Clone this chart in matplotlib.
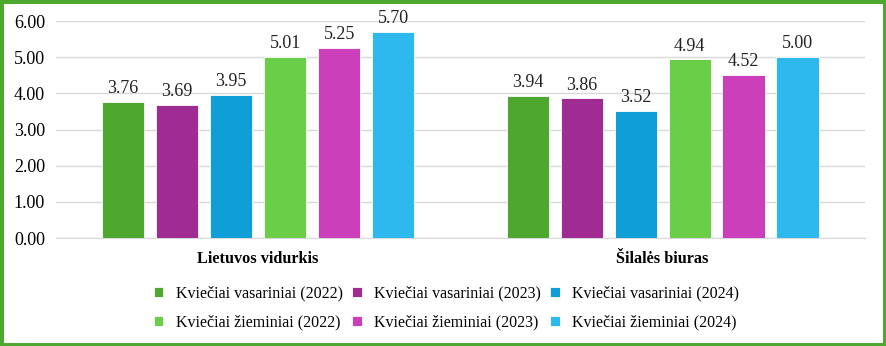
import numpy as np
import matplotlib
matplotlib.use("Agg")
import matplotlib.pyplot as plt

plt.rcParams["font.family"] = ["Liberation Serif", "DejaVu Serif"]

categories = ["Lietuvos vidurkis", "Šilalės biuras"]
series_names = [
    "Kviečiai vasariniai (2022)",
    "Kviečiai vasariniai (2023)",
    "Kviečiai vasariniai (2024)",
    "Kviečiai žieminiai (2022)",
    "Kviečiai žieminiai (2023)",
    "Kviečiai žieminiai (2024)",
]
vas_2022 = [3.76, 3.94]
vas_2023 = [3.69, 3.86]
vas_2024 = [3.95, 3.52]
zie_2022 = [5.01, 4.94]
zie_2023 = [5.25, 4.52]
zie_2024 = [5.70, 5.00]
yticks = [0, 1, 2, 3, 4, 5, 6]

series = [vas_2022, vas_2023, vas_2024, zie_2022, zie_2023, zie_2024]
colors = ["#4EA72E", "#A02B93", "#0F9ED5", "#6BCE48", "#CC3FBB", "#2EB9EE"]

fig = plt.figure(figsize=(8.86, 3.46), dpi=100)
fig.patch.set_edgecolor("#4EA72E")
fig.patch.set_linewidth(5)
ax = fig.add_axes([0.0632, 0.3121, 0.9128, 0.6272])

fs = 13
x = np.arange(len(categories))
step = 0.1335
width = 0.104
bars = []
for i, (vals, name, col) in enumerate(zip(series, series_names, colors)):
    offs = (i - 2.5) * step
    b = ax.bar(x + offs, vals, width, color=col, label=name,
               edgecolor="white", linewidth=0.6, zorder=3)
    bars.append(b)
    for xi, v in zip(x + offs, vals):
        ax.text(xi, v + 0.13, f"{v:.2f}", ha="center", va="bottom",
                fontsize=fs, color="#222222")

ax.set_xlim(-0.5, 1.5)
ax.set_ylim(0, 6)
ax.set_yticks(yticks)
ax.set_yticklabels([f"{t:.2f}" for t in yticks], fontsize=fs)
ax.set_xticks(x)
ax.set_xticklabels(categories, fontsize=11.7, fontweight="bold")
ax.tick_params(axis="y", length=0, pad=8)
ax.tick_params(axis="x", length=0, pad=9)
ax.grid(axis="y", color="#D9D9D9", linewidth=1, zorder=0)
for s in ["top", "right", "left"]:
    ax.spines[s].set_visible(False)
ax.spines["bottom"].set_color("#D9D9D9")

# legend fills column-wise, so interleave to get row order
order = [0, 3, 1, 4, 2, 5]
ax.legend([bars[i] for i in order], [series_names[i] for i in order],
          ncol=3, loc="center", bbox_to_anchor=(0.504, 0.11),
          bbox_transform=fig.transFigure, frameon=False, fontsize=11.5,
          handlelength=0.6, handleheight=0.6, handletextpad=0.8,
          columnspacing=0.55, labelspacing=0.8)

fig.savefig("out.png", dpi=100, edgecolor=fig.get_edgecolor())
